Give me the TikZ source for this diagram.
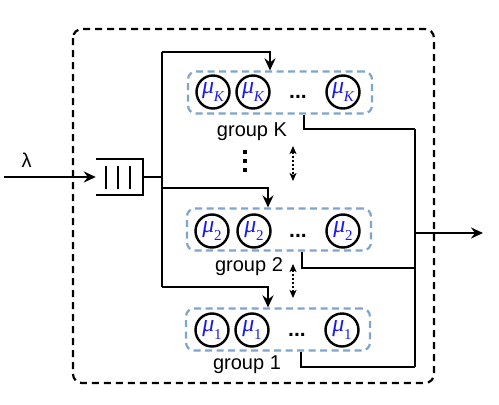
\documentclass[tikz,border=0pt]{standalone}
\usepackage{fontspec}
\setmainfont{Liberation Sans}
\newfontfamily\tmsfont{Liberation Serif}
\usetikzlibrary{arrows.meta,calc}
\definecolor{grpblue}{RGB}{125,165,205}
\definecolor{mublue}{RGB}{25,25,235}
\tikzset{
  wire/.style={line width=2.4pt, line join=miter},
  arr/.style={wire, -{Stealth[length=12pt,width=11pt,inset=4pt]}},
  outerbox/.style={draw, line width=2.2pt, dash pattern=on 7pt off 5pt, rounded corners=9pt},
  grpbox/.style={draw=grpblue, line width=2.2pt, dash pattern=on 7pt off 4.5pt, rounded corners=8pt,
     minimum width=184pt, minimum height=42pt, inner sep=0pt},
  server/.style={draw, circle, line width=2.4pt, minimum size=33pt, inner sep=0pt, text=mublue},
  lbl/.style={font=\fontsize{20pt}{22pt}\selectfont, anchor=base, inner sep=0pt},
  dotsnode/.style={font=\bfseries\fontsize{21pt}{22pt}\selectfont, anchor=base, inner sep=0pt},
  dblarr/.style={line width=2.2pt, dash pattern=on 2pt off 2pt,
     {Stealth[length=8pt,width=7pt,inset=2pt]}-{Stealth[length=8pt,width=7pt,inset=2pt]}},
}
\newcommand{\mysrv}[1]{{\tmsfont\fontsize{24pt}{24pt}\selectfont\itshape μ\kern-0.5pt\raisebox{-0.3em}{\fontsize{15pt}{15pt}\selectfont #1}}}
\begin{document}
\begin{tikzpicture}[x=1pt,y=-1pt]
\useasboundingbox (0,0) rectangle (499,405);
% outer dashed box
\draw[outerbox] (73,29) rectangle (434,383);

% input
\coordinate (in) at (4,177);
\node[lbl] (lam) at (26.5,167) {λ};
\node[minimum width=47pt, minimum height=36pt, inner sep=0pt] (q) at (119.5,177) {};
\draw[wire] (q.north west) -- (q.north east) -- (q.south east) -- (q.south west);
\foreach \x in {106,118,130} \draw[wire] (\x,166) -- (\x,189);
\draw[arr] (in) -- (q.west);

% groups
\node[grpbox] (gK) at (280,92.5) {};
\node[grpbox] (g2) at (279,229.5) {};
\node[grpbox] (g1) at (278,329.5) {};

\node[server] (sK1) at (213,92) {\mysrv{K}};
\node[server] (sK2) at (253,92) {\mysrv{K}};
\node[server] (sK3) at (343,92) {\mysrv{K}};
\node[dotsnode] (dK) at (298,98) {...};
\node[lbl] (lK) at (252,136) {group K};

\node[server] (s21) at (212,231) {\mysrv{\upshape 2}};
\node[server] (s22) at (254,231) {\mysrv{\upshape 2}};
\node[server] (s23) at (343,231) {\mysrv{\upshape 2}};
\node[dotsnode] (d2) at (298,237) {...};
\node[lbl] (l2) at (249,271) {group 2};

\node[server] (s11) at (212,330) {\mysrv{\upshape 1}};
\node[server] (s12) at (252,330) {\mysrv{\upshape 1}};
\node[server] (s13) at (342,330) {\mysrv{\upshape 1}};
\node[dotsnode] (d1) at (297,336) {...};
\node[lbl] (l1) at (247,369) {group 1};

% vertical dots between group K and group 2
\foreach \y in {152,161,170} \fill (243.2,\y-1.8) rectangle ++(3.6,3.6);

% dotted double arrows
\coordinate (da1) at (293,146);
\coordinate (db1) at (293,181);
\coordinate (da2) at (293,264);
\coordinate (db2) at (293,298);
\draw[dblarr] (da1) -- (db1);
\draw[dblarr] (da2) -- (db2);

% bus to groups
\coordinate (j) at (162,177);
\coordinate (bK) at (162,52);
\coordinate (b2) at (162,188);
\coordinate (b1) at (162,287);
\draw[wire] (q.east) -- (j);
\draw[wire] (bK) -- (b1);
\draw[arr] (bK) -| ([xshift=-10pt]gK.north);
\draw[arr] (b2) -| ([xshift=-11pt]g2.north);
\draw[arr] (b1) -| ([xshift=-10pt]g1.north);

% outputs
\coordinate (rK) at (415,129);
\coordinate (r2) at (415,268);
\coordinate (r1) at (415,367);
\coordinate (rm) at (415,233);
\coordinate (out) at (483,233);
\draw[wire] ([xshift=24pt]gK.south) |- (rK);
\draw[wire] ([xshift=23pt]g2.south) |- (r2);
\draw[wire] ([xshift=23pt]g1.south) |- (r1);
\draw[wire] (rK) -- (r1);
\draw[arr] (rm) -- (out);
\end{tikzpicture}
\end{document}
